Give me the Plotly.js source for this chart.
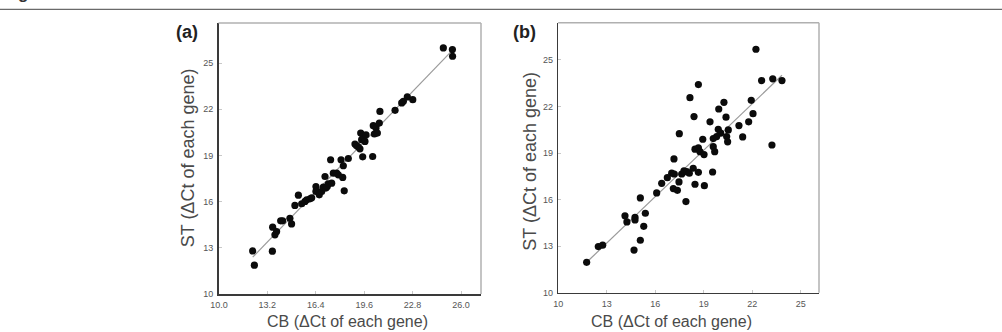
<!DOCTYPE html>
<html>
<head>
<meta charset="utf-8">
<script src="https://cdn.plot.ly/plotly-3.0.1.min.js"></script>
<style>
  html, body { margin: 0; padding: 0; background: #fff; }
  #fig { width: 1002px; height: 332px; }
</style>
</head>
<body>
<div id="fig"></div>
<script>
// Panel (a): ΔCt per gene, CB vs ST
const cbA = [24.83,25.43,25.44,12.23,12.34,13.53,13.55,13.70,13.81,14.08,14.21,14.69,14.80,15.02,15.25,15.47,15.69,15.80,16.02,16.13,16.41,16.41,16.63,16.79,16.90,17.01,17.07,17.16,17.23,17.38,17.45,17.56,17.78,17.89,18.07,18.18,18.22,18.28,18.55,18.99,19.10,19.21,19.32,19.37,19.43,19.50,19.54,19.65,19.72,20.16,20.20,20.27,20.38,20.47,20.60,20.64,21.64,22.08,22.19,22.45,22.81];
const stA = [25.98,25.88,25.44,12.80,11.87,12.78,14.34,13.84,14.06,14.75,14.75,14.92,14.55,15.75,16.42,15.86,16.01,16.12,16.18,16.25,16.98,16.66,16.44,16.66,16.94,17.63,16.88,16.98,17.16,18.72,17.20,17.85,17.85,17.74,18.72,17.57,18.33,16.70,18.80,19.74,19.63,19.54,19.43,20.45,20.02,18.91,20.24,19.91,20.34,18.93,20.93,20.39,20.78,20.45,21.10,21.86,21.93,22.41,22.51,22.80,22.62];

// Panel (b): ΔCt per gene, CB vs ST
const cbB = [22.23,22.58,23.27,23.84,18.67,18.15,20.25,21.94,18.40,19.93,20.38,19.39,22.05,21.78,21.18,17.49,18.94,19.90,20.52,20.05,19.59,19.80,20.42,20.48,21.41,23.22,18.46,18.67,18.77,19.02,19.59,19.68,17.16,17.02,17.18,17.64,17.78,17.95,18.11,18.35,18.67,19.55,16.75,16.40,17.47,17.12,17.37,18.46,19.04,16.09,17.90,15.08,14.13,14.25,14.75,14.75,15.39,15.29,15.08,14.69,12.48,12.75,11.76];
const stB = [25.69,23.67,23.78,23.67,23.41,22.57,22.27,22.40,21.35,21.84,21.31,21.01,21.54,21.01,20.77,20.25,19.89,20.53,20.49,20.28,19.93,20.06,20.06,19.72,20.04,19.52,19.25,19.33,19.09,18.90,19.41,19.09,18.62,17.70,17.65,17.65,17.85,17.80,17.70,18.02,17.76,17.78,17.41,17.05,17.14,16.71,16.60,16.99,16.90,16.43,15.87,16.11,14.96,14.56,14.86,14.69,15.12,14.28,13.38,12.75,12.97,13.06,11.96];

// Fitted lines (slope, intercept)
const fitSlopeA = 1.018, fitInterceptA = -0.06;
const fitSlopeB = 0.9975, fitInterceptB = 0.23;

// Tick labels
const xTicksA = [10.0, 13.2, 16.4, 19.6, 22.8, 26.0];
const xTicksB = [10, 13, 16, 19, 22, 25];
const yTicks = [10, 13, 16, 19, 22, 25];

const W = 1002, H = 332;
const px = v => v / W;          // pixel -> paper x
const py = v => 1 - v / H;      // pixel -> paper y

function fitLine(xs, slope, intercept) {
  const lo = Math.min(...xs), hi = Math.max(...xs);
  return { x: [lo, hi], y: [slope * lo + intercept, slope * hi + intercept] };
}
const lineA = fitLine(cbA, fitSlopeA, fitInterceptA);
const lineB = fitLine(cbB, fitSlopeB, fitInterceptB);

const FONT = '"Liberation Sans", Arial, sans-serif';
const markerStyle = { color: '#0b0b0b', size: 7.2 };
const lineStyle = { color: '#9a9a9a', width: 1.2 };

const traces = [
  { x: lineA.x, y: lineA.y, type: 'scatter', mode: 'lines', line: lineStyle, xaxis: 'x', yaxis: 'y', hoverinfo: 'skip' },
  { x: cbA, y: stA, type: 'scatter', mode: 'markers', marker: markerStyle, xaxis: 'x', yaxis: 'y' },
  { x: lineB.x, y: lineB.y, type: 'scatter', mode: 'lines', line: lineStyle, xaxis: 'x2', yaxis: 'y2', hoverinfo: 'skip' },
  { x: cbB, y: stB, type: 'scatter', mode: 'markers', marker: markerStyle, xaxis: 'x2', yaxis: 'y2' }
];

const tickFont = { family: FONT, size: 9, color: '#555' };
const baseAxis = {
  showgrid: false, zeroline: false, showline: true,
  linecolor: '#3a3a3a', linewidth: 1.5,
  ticks: 'inside', ticklen: 3, tickcolor: '#c8c8c8', tickwidth: 1,
  tickfont: tickFont, fixedrange: true
};

const layout = {
  width: W, height: H,
  margin: { l: 0, r: 0, t: 0, b: 0 },
  paper_bgcolor: '#fff', plot_bgcolor: '#fff',
  showlegend: false,
  xaxis: Object.assign({}, baseAxis, {
    domain: [px(218.5), px(481)], range: [9.97, 27.32], anchor: 'y',
    tickvals: xTicksA, ticktext: xTicksA.map(v => v.toFixed(1)), ticklabelstandoff: 2
  }),
  yaxis: Object.assign({}, baseAxis, {
    domain: [py(294), py(23)], range: [10, 27.6], anchor: 'x',
    tickvals: yTicks, ticktext: yTicks.map(String), ticklabelstandoff: 2
  }),
  xaxis2: Object.assign({}, baseAxis, {
    domain: [px(558.2), px(819)], range: [10, 26.13], anchor: 'y2',
    tickvals: xTicksB, ticktext: xTicksB.map(String), ticklabelstandoff: 2
  }),
  yaxis2: Object.assign({}, baseAxis, {
    domain: [py(292.7), py(22.7)], range: [10, 27.4], anchor: 'x2',
    tickvals: yTicks, ticktext: yTicks.map(String), ticklabelstandoff: 2
  }),
  shapes: [
    // rule under the figure heading
    { type: 'line', xref: 'paper', yref: 'paper', x0: 0, x1: 1, y0: py(9.3), y1: py(9.3), line: { color: '#6a6a6a', width: 1.2 } },
    // light top/right frame of each panel
    { type: 'line', xref: 'x domain', yref: 'y domain', x0: 0, x1: 1, y0: 1, y1: 1, line: { color: '#b0b0b0', width: 1.5 } },
    { type: 'line', xref: 'x domain', yref: 'y domain', x0: 1, x1: 1, y0: 0, y1: 1, line: { color: '#b0b0b0', width: 1.5 } },
    { type: 'line', xref: 'x2 domain', yref: 'y2 domain', x0: 0, x1: 1, y0: 1, y1: 1, line: { color: '#b0b0b0', width: 1.5 } },
    { type: 'line', xref: 'x2 domain', yref: 'y2 domain', x0: 1, x1: 1, y0: 0, y1: 1, line: { color: '#b0b0b0', width: 1.5 } }
  ],
  annotations: [
    { text: '<b>Figure 2</b>', xref: 'paper', yref: 'paper', x: px(1), y: py(5), xanchor: 'left', yanchor: 'bottom',
      showarrow: false, font: { family: FONT, size: 17, color: '#333' } },
    { text: '<b>(a)</b>', xref: 'paper', yref: 'paper', x: px(187), y: py(32), xanchor: 'center', yanchor: 'middle',
      showarrow: false, font: { family: FONT, size: 18, color: '#222' } },
    { text: '<b>(b)</b>', xref: 'paper', yref: 'paper', x: px(524.7), y: py(32), xanchor: 'center', yanchor: 'middle',
      showarrow: false, font: { family: FONT, size: 18, color: '#222' } },
    { text: 'CB (ΔCt of each gene)', xref: 'paper', yref: 'paper', x: px(347), y: py(321.7), xanchor: 'center', yanchor: 'middle',
      showarrow: false, font: { family: FONT, size: 16, color: '#4a4a4a' } },
    { text: 'CB (ΔCt of each gene)', xref: 'paper', yref: 'paper', x: px(671), y: py(321.7), xanchor: 'center', yanchor: 'middle',
      showarrow: false, font: { family: FONT, size: 16, color: '#4a4a4a' } },
    { text: 'ST (ΔCt of each gene)', xref: 'paper', yref: 'paper', x: px(188), y: py(158.3), xanchor: 'center', yanchor: 'middle',
      textangle: -90, showarrow: false, font: { family: FONT, size: 18, color: '#4a4a4a' } },
    { text: 'ST (ΔCt of each gene)', xref: 'paper', yref: 'paper', x: px(530), y: py(161.7), xanchor: 'center', yanchor: 'middle',
      textangle: -90, showarrow: false, font: { family: FONT, size: 18, color: '#4a4a4a' } }
  ]
};

Plotly.newPlot('fig', traces, layout, { staticPlot: true, displayModeBar: false });
</script>
</body>
</html>
